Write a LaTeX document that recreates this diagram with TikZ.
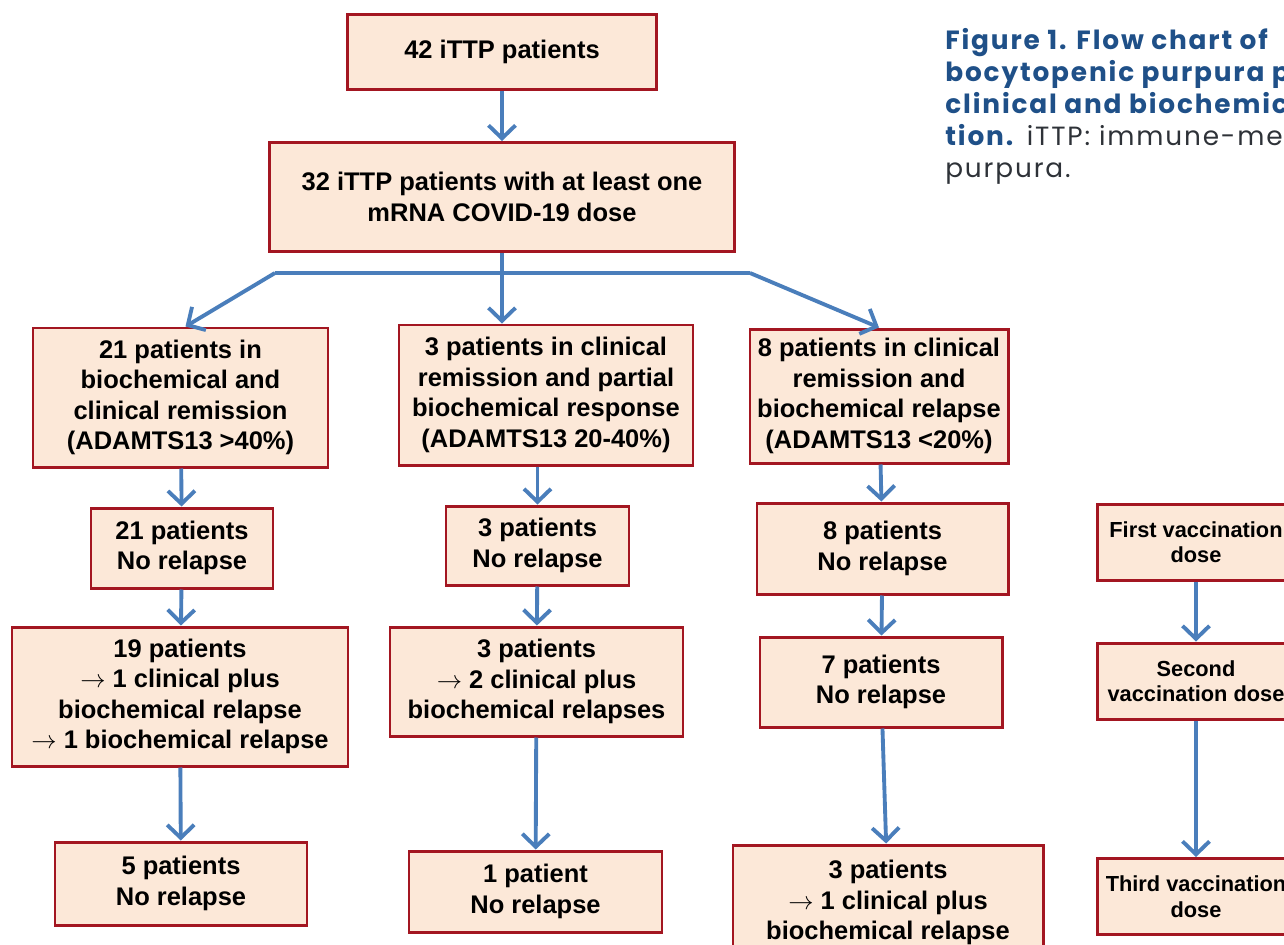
\documentclass[tikz,border=0pt]{standalone}
\usepackage{fontspec}
\setmainfont{Liberation Sans}
\newfontfamily\capfont{Poppins}[LetterSpace=7]
\usetikzlibrary{arrows.meta,positioning,calc}
\definecolor{boxRed}{HTML}{A31621}
\definecolor{boxFill}{HTML}{FCE8D8}
\definecolor{arrBlue}{HTML}{4A7EBB}
\definecolor{capBlue}{HTML}{1F5088}
\definecolor{capGray}{HTML}{2E3238}
\tikzset{
  flow arrow/.style={-{Straight Barb[length=2.6mm,width=5.4mm,line width=2.2pt]},draw=arrBlue,line width=2.2pt},
  flow line/.style={draw=arrBlue,line width=2.2pt},
  patient box/.style={draw=boxRed,fill=boxFill,line width=1.7pt,align=center,
    inner sep=3pt,font=\bfseries\fontsize{14.5}{17.3}\selectfont},
  dose box/.style={patient box,minimum width=3.96cm,minimum height=1.52cm,
    font=\bfseries\fontsize{12.4}{14.5}\selectfont}
}
\begin{document}
\begin{tikzpicture}
    \useasboundingbox (0,0) rectangle (25.68,-18.9);
    \node[patient box,minimum width=6.18cm,minimum height=1.5cm] (all) at (10.04,-1.04)
      {42 iTTP patients};
    \node[patient box,minimum width=9.3cm,minimum height=2.18cm] (dosed) at (10.04,-3.94)
      {32 iTTP patients with at least one\\mRNA COVID-19 dose};
    \node[patient box,minimum width=5.9cm,minimum height=2.78cm] (remA) at (3.61,-7.95)
      {21 patients in\\biochemical and\\clinical remission\\(ADAMTS13 >40\%)};
    \node[patient box,minimum width=5.88cm,minimum height=2.8cm] (remB) at (10.92,-7.9)
      {3 patients in clinical\\remission and partial\\biochemical response\\(ADAMTS13 20-40\%)};
    \node[patient box,minimum width=5.16cm,minimum height=2.68cm] (remC) at (17.58,-7.92)
      {8 patients in clinical\\remission and\\biochemical relapse\\(ADAMTS13 <20\%)};
    \node[patient box,minimum width=3.64cm,minimum height=1.6cm] (firstA) at (3.64,-10.96)
      {21 patients\\No relapse};
    \node[patient box,minimum width=3.66cm,minimum height=1.58cm] (firstB) at (10.75,-10.91)
      {3 patients\\No relapse};
    \node[patient box,minimum width=5.02cm,minimum height=1.82cm] (firstC) at (17.65,-10.97)
      {8 patients\\No relapse};
    \node[patient box,minimum width=6.72cm,minimum height=2.78cm] (secondA) at (3.6,-13.93)
      {19 patients\\$\rightarrow$ 1 clinical plus\\biochemical relapse\\$\rightarrow$ 1 biochemical relapse};
    \node[patient box,minimum width=5.86cm,minimum height=2.18cm] (secondB) at (10.73,-13.63)
      {3 patients\\$\rightarrow$ 2 clinical plus\\biochemical relapses};
    \node[patient box,minimum width=4.84cm,minimum height=1.8cm] (secondC) at (17.62,-13.64)
      {7 patients\\No relapse};
    \node[patient box,minimum width=5.04cm,minimum height=1.66cm] (thirdA) at (3.62,-17.67)
      {5 patients\\No relapse};
    \node[patient box,minimum width=5.06cm,minimum height=1.62cm] (thirdB) at (10.71,-17.83)
      {1 patient\\No relapse};
    \node[patient box,minimum width=6.2cm,minimum height=2.3cm] (thirdC) at (17.76,-18.05)
      {3 patients\\$\rightarrow$ 1 clinical plus\\biochemical relapse};
    \node[dose box] (vacc1) at (23.92,-10.84) {First vaccination\\dose};
    \node[dose box] (vacc2) at (23.92,-13.62) {Second\\vaccination dose};
    \node[dose box] (vacc3) at (23.92,-17.93) {Third vaccination\\dose};
    \node[anchor=north west,align=left,inner sep=0pt,text=capBlue,
      font=\capfont\fontsize{15}{18.2}\selectfont] (caption) at (18.9,-0.56)
      {\textbf{Figure 1. Flow chart of}\\
       \textbf{bocytopenic purpura pa}\\
       \textbf{clinical and biochemica}\\
       \textbf{tion.} {\color{capGray}iTTP: immune-me}\\
       {\color{capGray}purpura.}};
    \coordinate (split) at (10.04,-5.46);
    \coordinate (splitL) at (5.5,-5.46);
    \coordinate (splitR) at (15.0,-5.46);
    \draw[flow arrow] (all) -- (dosed);
    \draw[flow line] (splitL) -- (splitR);
    \draw[flow arrow] (dosed.south) -- (dosed.south |- remB.north);
    \draw[flow arrow] (splitL) -- ([xshift=1mm]remA.north);
    \draw[flow arrow] (splitR) -- (remC.north);
    \draw[flow arrow] (remA) -- (firstA);
    \draw[flow arrow] (firstB.north |- remB.south) -- (firstB.north);
    \draw[flow arrow] (remC) -- (firstC);
    \draw[flow arrow] (firstA) -- (secondA);
    \draw[flow arrow] (firstB) -- (secondB);
    \draw[flow arrow] (firstC) -- (secondC);
    \draw[flow arrow] (secondA) -- (thirdA);
    \draw[flow arrow] (secondB) -- (thirdB);
    \draw[flow arrow] (secondC) -- (thirdC);
    \draw[flow arrow] (vacc1) -- (vacc2);
    \draw[flow arrow] (vacc2) -- (vacc3);
  \end{tikzpicture}
\end{document}
